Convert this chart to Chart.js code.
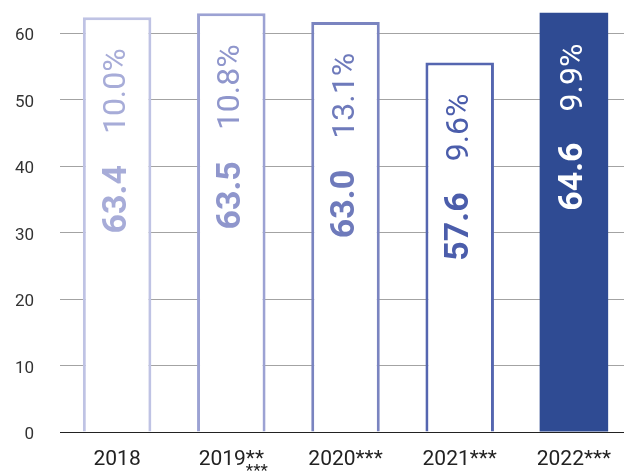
<!DOCTYPE html>
<html>
<head>
<meta charset="utf-8">
<script src="https://cdn.jsdelivr.net/npm/chart.js@4.4.1/dist/chart.umd.min.js"></script>
<style>
  html, body { margin: 0; padding: 0; background: #fff; overflow: hidden; }
  #wrap { width: 631px; height: 471px; }
</style>
</head>
<body>
<div id="wrap"><canvas id="chart"></canvas></div>
<script>
// Données
const years = ['2018', '2019', '2020', '2021', '2022'];
const yearMarks = ['', '**', '***', '***', '***'];
const lowerMarks = ['', '***', '', '', ''];
const barHeights = [62.4, 63.0, 61.7, 55.6, 63.1];
const totalLabels = ['63.4', '63.5', '63.0', '57.6', '64.6'];
const shareLabels = ['10.0%', '10.8%', '13.1%', '9.6%', '9.9%'];
const yTicks = [0, 10, 20, 30, 40, 50, 60];

// Couleurs des barres
const borderColors = ['#bfc3e4', '#9ca2d3', '#7a84c0', '#5566b0', '#2f4b93'];
const borderWidths = [3, 3, 3, 3, 0];
const fillColors = ['#ffffff', '#ffffff', '#ffffff', '#ffffff', '#2f4b93'];
const textColors = ['#a7acd8', '#8f96cc', '#6e7abb', '#4b5dab', '#ffffff'];

const xLabels = years.map((y, i) => y + yearMarks[i]);

// Textes verticaux dans les barres
const barLabels = {
    id: 'barLabels',
    afterDatasetsDraw(chart) {
        const ctx = chart.ctx;
        const meta = chart.getDatasetMeta(0);
        meta.data.forEach((bar, i) => {
            ctx.save();
            ctx.translate(bar.x, bar.y + 31);
            ctx.rotate(-Math.PI / 2);
            ctx.fillStyle = textColors[i];
            ctx.textAlign = 'right';
            ctx.textBaseline = 'middle';
            ctx.font = '400 32px Roboto';
            ctx.fillText(shareLabels[i], 0, 0);
            const w = ctx.measureText(shareLabels[i]).width;
            ctx.font = 'bold 34px Roboto';
            ctx.fillText(totalLabels[i], -(w + 31), 0);
            ctx.restore();
        });
    }
};

// Astérisques empilés sous "2019**"
const footMarks = {
    id: 'footMarks',
    afterDraw(chart) {
        const ctx = chart.ctx;
        const xs = chart.scales.x;
        lowerMarks.forEach((m, i) => {
            if (!m) return;
            ctx.save();
            ctx.font = '21px Roboto';
            const full = ctx.measureText(xLabels[i]).width;
            const top = ctx.measureText(yearMarks[i]).width;
            const x0 = xs.getPixelForTick(i) + full / 2 - top;
            ctx.font = '17px Roboto';
            ctx.fillStyle = '#222';
            ctx.textAlign = 'left';
            ctx.textBaseline = 'alphabetic';
            ctx.fillText(m, x0, 476);
            ctx.restore();
        });
    }
};

new Chart(document.getElementById('chart'), {
    type: 'bar',
    data: {
        labels: xLabels,
        datasets: [{
            data: barHeights,
            backgroundColor: fillColors,
            borderColor: borderColors,
            borderWidth: borderWidths,
            borderSkipped: 'start',
            categoryPercentage: 1,
            barPercentage: 0.6
        }]
    },
    options: {
        responsive: true,
        maintainAspectRatio: false,
        animation: false,
        layout: { padding: 0 },
        plugins: {
            legend: { display: false },
            tooltip: { enabled: false }
        },
        scales: {
            x: {
                z: 1,
                grid: { display: false, drawTicks: false },
                border: { display: true, color: '#222', width: 1 },
                ticks: {
                    color: '#222',
                    font: { family: 'Roboto', size: 21 },
                    padding: 15,
                    maxRotation: 0
                },
                afterFit(scale) {
                    scale.height = 39;
                    scale.paddingLeft = 0;
                    scale.paddingRight = 0;
                }
            },
            y: {
                min: 0,
                max: 65,
                grid: { color: '#a3a3a3', lineWidth: 1, drawTicks: false },
                border: { display: false },
                ticks: {
                    stepSize: 10,
                    color: '#333',
                    font: { family: 'Roboto', size: 17 },
                    padding: 26,
                    labelOffset: 3
                },
                afterBuildTicks(scale) {
                    scale.ticks = yTicks.map(v => ({ value: v }));
                },
                afterFit(scale) {
                    scale.width = 60;
                    scale.paddingTop = 0;
                    scale.paddingBottom = 0;
                }
            }
        }
    },
    plugins: [barLabels, footMarks]
});
</script>
</body>
</html>
